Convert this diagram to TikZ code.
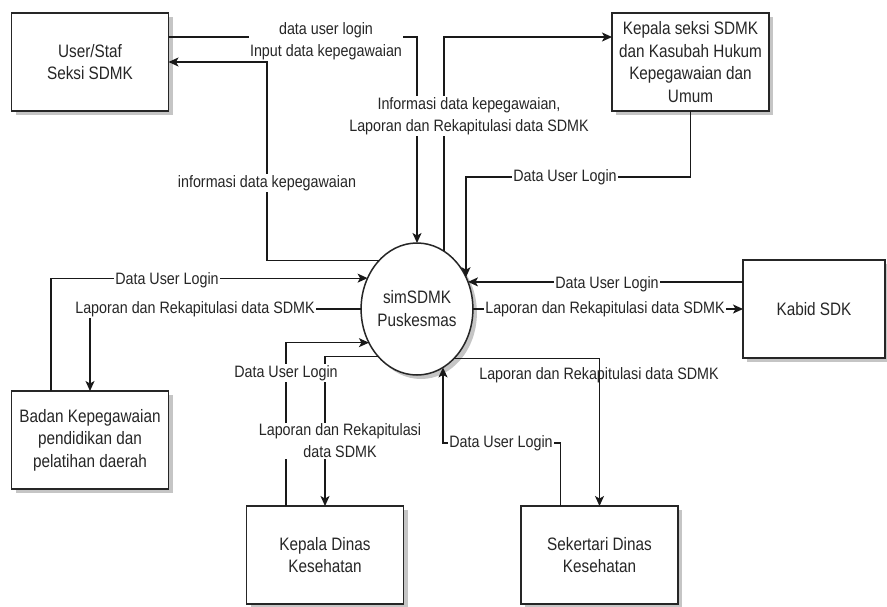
\documentclass[tikz,border=0pt]{standalone}
\usepackage{fontspec}
\setmainfont{Liberation Sans}
\newfontfamily\edgefont{Liberation Sans}[FakeStretch=0.867]
\newfontfamily\boxfont{Liberation Sans}[FakeStretch=0.85]
\usetikzlibrary{arrows.meta,shadows,shapes.geometric}
\begin{document}
\begin{tikzpicture}[x=1pt,y=-1pt,
  ent/.style={draw=black!85,line width=1.5pt,fill=white,minimum width=157pt,minimum height=98pt,
    inner sep=0pt,outer sep=0pt,align=center,font=\boxfont\fontsize{18}{22.5}\selectfont,text=black!85,
    drop shadow={shadow xshift=4pt,shadow yshift=-4pt,opacity=0.45}},
  proc/.style={ellipse,draw=black!85,line width=1.5pt,fill=white,minimum width=104pt,minimum height=132pt,
    inner sep=0pt,outer sep=0pt,align=center,font=\boxfont\fontsize{18}{23}\selectfont,text=black!85,
    drop shadow={shadow xshift=4pt,shadow yshift=-4pt,opacity=0.45}},
  flow/.style={draw=black!90,line width=1.2pt,-{Stealth[length=10pt,width=9pt,inset=2.5pt]}},
  lbl/.style={fill=white,inner sep=1pt,align=center,font=\edgefont\fontsize{16.5}{22}\selectfont,text=black!85},
  lblclear/.style={inner sep=1pt,align=center,font=\edgefont\fontsize{16.5}{22}\selectfont,text=black!85}
]
\useasboundingbox (0,0) rectangle (887,606);
\fill[white] (0,0) rectangle (887,606);

% entities
\node[ent] (user) at (90,62) {User/Staf\\Seksi SDMK};
\node[ent] (kseksi) at (690.5,62) {Kepala seksi SDMK\\dan Kasubah Hukum\\Kepegawaian dan\\Umum};
\node[ent,minimum width=142pt] (kabid) at (814,309) {Kabid SDK};
\node[ent] (badan) at (90,440) {Badan Kepegawaian\\pendidikan dan\\pelatihan daerah};
\node[ent] (kdinas) at (325,555) {Kepala Dinas\\Kesehatan};
\node[ent] (sek) at (599.5,555) {Sekertari Dinas\\Kesehatan};
\node[proc] (c) at (417,309) {simSDMK\\Puskesmas};

% bend points
\coordinate (k2) at (267,62);
\coordinate (k4) at (565,177);
\coordinate (k12) at (501,443);

% connectors
\draw[flow] ([yshift=25pt]user.east) -| (c.north);
\draw[flow] (c.128) -| (k2) -- (user.east);
\draw[flow] (c.65.6) |- ([yshift=25pt]kseksi.west);
\draw[flow] (kseksi.south) |- (k4) -| (c.33.8);
\draw[flow] ([xshift=-39pt]badan.north) |- (c.148.2);
\draw[flow] (c.west) -| (badan.north);
\draw[flow] ([xshift=-39pt]kdinas.north) |- (c.215.1);
\draw[flow] (c.231) -| (kdinas.north);
\draw[flow] (c.east) -- (kabid.west);
\draw[flow] (kabid.west |- c.28.5) -- (c.28.5);
\draw[flow] (c.307.8) -| (sek.north);
\draw[flow] ([xshift=-39pt]sek.north) |- (k12) -| (c.294.4);

% labels
\node[lbl] (l1) at (326,41) {data user login\\Input data kepegawaian};
\node[lbl] (l2) at (267,183) {informasi data kepegawaian};
\node[lbl] (l3) at (469,116) {Informasi data kepegawaian,\\Laporan dan Rekapitulasi data SDMK};
\node[lbl] (l4) at (k4) {Data User Login};
\node[lbl] (l5) at (167,280) {Data User Login};
\node[lbl] (l6) at (195,309) {Laporan dan Rekapitulasi data SDMK};
\node[lbl] (l7) at (286,373) {Data User Login};
\node[lbl] (l8) at (340,441) {Laporan dan Rekapitulasi\\data SDMK};
\node[lbl] (l9) at (605,309) {Laporan dan Rekapitulasi data SDMK};
\node[lbl] (l10) at (607,284) {Data User Login};
\node[lblclear] (l11) at (599,375) {Laporan dan Rekapitulasi data SDMK};
\node[lbl] (l12) at (k12) {Data User Login};
\end{tikzpicture}
\end{document}
